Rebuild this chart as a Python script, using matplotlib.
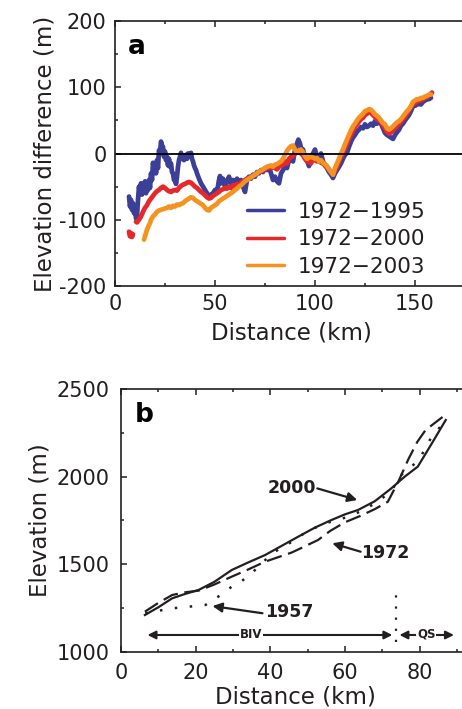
import numpy as np
import matplotlib
matplotlib.use("Agg")
import matplotlib.pyplot as plt
from matplotlib.ticker import MultipleLocator

# ---------------- Panel a data ----------------
blue_x = [7, 7.5, 8, 8.5, 9, 9.5, 10, 10.5, 11, 11.5, 12, 12.5, 13, 13.5, 14, 14.5, 15, 15.5, 16, 16.5,
          17, 17.5, 18, 18.5, 19, 19.5, 20, 20.5, 21, 21.5, 22, 22.5, 23, 23.5, 24, 24.5, 25, 25.5, 26, 26.5,
          27, 27.5, 28, 28.5, 29, 29.5, 30, 30.5, 31, 31.5, 32, 32.5, 33, 33.5, 34, 34.5, 35, 35.5, 36, 36.5,
          37, 37.5, 38, 38.5, 39, 39.5, 40, 40.5, 41, 42, 43, 44, 45, 46, 47, 48, 49, 50, 51, 52, 52.5, 53,
          54, 55, 56, 57, 58, 59, 60, 61, 62, 63, 64, 65, 66, 67, 68, 69, 70, 71, 72, 73, 74, 75, 76, 77,
          78, 79, 80, 81, 82, 83, 84, 85, 86, 87, 88, 89, 90, 91, 91.7, 92.5, 93, 94, 95, 96, 97, 98, 99,
          100, 101, 102, 103, 104, 105, 106, 107, 108, 109, 110, 111, 112, 113, 114, 115, 116, 117, 118,
          119, 120, 121, 122, 123, 124, 125, 126, 127, 128, 129, 130, 131, 132, 133, 134, 135, 136, 137,
          138, 139, 140, 141, 142, 143, 144, 145, 146, 147, 148, 149, 150, 151, 152, 153, 154, 155, 156,
          157, 158]
blue_y = [-65, -80, -70, -85, -75, -90, -80, -98, -95, -70, -50, -60, -45, -62, -50, -58, -42, -60, -48, -55,
          -40, -52, -30, -40, -14, -25, -18, -30, -10, -22, 5, 0, 18, 12, 10, -5, 3, -10, -5, -18,
          -8, -20, -15, -28, -30, -40, -38, -46, -35, -20, -10, -5, 1, -8, -3, -10, -6, -2, -8, 0,
          -5, -2, 1, -8, -12, -18, -22, -25, -30, -38, -45, -50, -55, -60, -65, -62, -60, -55, -58, -40, -34, -45,
          -38, -50, -42, -35, -45, -40, -48, -38, -45, -40, -50, -58, -40, -35, -38, -32, -35, -28, -30, -25, -28, -22, -25, -20,
          -30, -40, -35, -42, -45, -30, -25, -20, -22, -10, -8, -12, 5, 15, 21, 15, 8, 6, -5, -10, -19, -10, 0,
          6, -5, -8, 0, -12, -18, -22, -28, -32, -37, -30, -25, -20, -15, -8, -2, 1, 10, 18,
          24, 28, 33, 36, 40, 38, 44, 40, 42, 45, 42, 49, 45, 48, 45, 38, 31, 28, 26,
          24, 22, 28, 32, 36, 42, 45, 50, 54, 58, 64, 72, 72, 74, 75, 74, 78, 80, 82,
          82, 84]

red_x = [7, 7.5, 8, 8.5, 9, 9.5, 10.5, 11, 12, 13, 14, 15, 16, 17, 18, 19, 20, 21, 22, 23, 24, 25, 26, 27, 28,
         29, 30, 31, 32, 33, 34, 35, 36, 37, 38, 39, 40, 41, 42, 43, 44, 45, 46, 47, 48, 49, 50, 51, 52, 53,
         54, 55, 56, 57, 58, 59, 60, 61, 62, 63, 64, 65, 66, 67, 68, 69, 70, 71, 72, 73, 74, 75, 76, 77, 78,
         79, 80, 81, 82, 83, 84, 85, 86, 87, 88, 89, 90, 91, 92, 93, 94, 95, 96, 97, 98, 99, 100, 101, 102,
         103, 104, 105, 106, 107, 108, 109, 110, 111, 112, 113, 114, 115, 116, 117, 118, 119, 120, 121, 122,
         123, 124, 125, 126, 127, 128, 129, 130, 131, 132, 133, 134, 135, 136, 137, 138, 139, 140, 141, 142,
         143, 144, 145, 146, 147, 148, 149, 150, 151, 152, 153, 154, 155, 156, 157, 158, 158.5]
red_y = [-118, -125, -120, -126, -122, np.nan, -103, -104, -100, -95, -88, -82, -78, -72, -68, -64, -60, -57, -55, -52, -50, -52, -55, -57, -58,
         -56, -55, -56, -52, -49, -47, -46, -44, -43, -44, -47, -50, -52, -55, -58, -60, -63, -66, -68, -67, -64, -62, -60, -58, -55,
         -54, -52, -53, -50, -52, -48, -50, -46, -48, -44, -42, -40, -38, -37, -35, -34, -32, -30, -28, -27, -25, -24, -22, -20, -22,
         -20, -22, -24, -20, -18, -17, -12, -15, -8, -5, -4, 0, 5, 2, 0, -3, -8, -12, -10, -15, -8, -10, -12, -10,
         -14, -15, -18, -20, -24, -28, -32, -25, -20, -12, -5, 0, 8, 15, 22, 28, 34, 40, 44, 48,
         52, 54, 58, 60, 63, 62, 58, 55, 52, 50, 48, 42, 38, 33, 30, 32, 35, 38, 42, 44,
         48, 52, 55, 60, 65, 70, 74, 76, 78, 80, 80, 82, 84, 85, 88, 90, 92]

orange_x = [14.5, 15, 15.5, 16, 17, 17.5, 18, 19, 20, 21, 22, 23, 24, 25, 26, 27, 28, 29, 30, 31, 32, 33, 34,
            35, 36, 37, 38, 39, 40, 41, 42, 43, 44, 45, 46, 47, 48, 49, 50, 51, 52, 53, 54, 55, 56, 57, 58,
            59, 60, 61, 62, 63, 64, 65, 66, 67, 68, 69, 70, 71, 72, 73, 74, 75, 76, 77, 78, 79, 80, 81, 82,
            83, 84, 85, 86, 87, 88, 89, 90, 91, 92, 93, 94, 95, 96, 97, 98, 99, 100, 101, 102, 103, 104, 105,
            106, 107, 108, 109, 110, 111, 112, 113, 114, 115, 116, 117, 118, 119, 120, 121, 122, 123, 124,
            125, 126, 127, 128, 129, 130, 131, 132, 133, 134, 135, 136, 137, 138, 139, 140, 141, 142, 143,
            144, 145, 146, 147, 148, 149, 150, 151, 152, 153, 154, 155, 156, 157, 158]
orange_y = [-130, -125, -120, -115, -108, -105, -100, -95, -92, -88, -86, -85, -84, -83, -82, -80, -82, -79, -80, -77, -78, -76, -75,
            -72, -70, -68, -66, -67, -70, -72, -74, -76, -78, -82, -85, -86, -82, -80, -78, -76, -72, -70, -68, -66, -64, -62, -60,
            -58, -55, -53, -50, -48, -45, -42, -40, -38, -36, -34, -32, -30, -27, -26, -24, -22, -20, -19, -18, -20, -17, -16, -14,
            -12, -8, -2, 4, 8, 11, 12, 6, 2, 4, 6, 2, -4, -8, -6, -5, -6, -8, -7, -12, -10, -14, -16,
            -19, -24, -28, -32, -22, -15, -8, 0, 6, 14, 21, 28, 35, 41, 45, 50, 54, 57, 60,
            64, 65, 67, 66, 63, 59, 57, 54, 50, 46, 44, 38, 36, 38, 41, 44, 47, 49, 52,
            56, 60, 64, 67, 72, 78, 80, 82, 82, 84, 84, 86, 87, 89, 89]

series_labels = ["1972\u22121995", "1972\u22122000", "1972\u22122003"]

# ---------------- Panel b data ----------------
p2000_x = [6.4, 10, 13.7, 17, 20.8, 25, 29.7, 34, 38.6, 43, 47.5, 52, 56.4, 60, 63.5, 68, 72.4, 76, 79.5, 83, 87]
p2000_y = [1211, 1255, 1306, 1330, 1354, 1400, 1468, 1510, 1553, 1605, 1658, 1710, 1753, 1785, 1810, 1860, 1933, 2000, 2057, 2180, 2323]

p1972_x = [6.4, 10, 13.7, 17, 20.8, 25, 29.7, 34, 38.6, 42, 45.7, 49, 52.8, 56, 60, 64, 68, 71.5, 74.5, 77, 79.4, 81.6, 87.4]
p1972_y = [1230, 1280, 1325, 1340, 1350, 1385, 1430, 1470, 1515, 1540, 1567, 1600, 1639, 1690, 1740, 1775, 1815, 1857, 1981, 2100, 2199, 2266, 2361]

p1957_x = [6.5, 10, 13.7, 18, 22.6, 26, 29.7, 31.6, 35, 40.5, 45.8, 50, 54.8, 61, 65, 69, 72.7, 74.5, 78, 80.3, 83, 87.4]
p1957_y = [1220, 1235, 1249, 1258, 1268, 1315, 1373, 1392, 1449, 1563, 1629, 1690, 1734, 1772, 1810, 1860, 1924, 2000, 2060, 2114, 2219, 2333]

TXT = "#231f20"
plt.rcParams['font.family'] = ['DejaVu Sans']
plt.rcParams['axes.unicode_minus'] = False
plt.rcParams['text.color'] = TXT
plt.rcParams['axes.labelcolor'] = TXT
plt.rcParams['xtick.color'] = TXT
plt.rcParams['ytick.color'] = TXT

W, H = 462, 709
fig = plt.figure(figsize=(W / 100, H / 100), dpi=100)

def frac(l, t, r, b):
    return [l / W, 1 - b / H, (r - l) / W, (b - t) / H]

def style_axes(ax):
    for s in ax.spines.values():
        s.set_linewidth(1.2)
        s.set_color(TXT)
    ax.spines['right'].set_visible(False)
    ax.tick_params(which='both', direction='in', top=True, right=False, width=1.1)
    ax.tick_params(which='major', length=4, labelsize=15, pad=6)
    ax.tick_params(which='minor', length=2.5)

# ---------------- Panel a ----------------
axa = fig.add_axes(frac(115, 21, 468, 286))
axa.plot(blue_x, blue_y, color='#3b3f98', lw=3.4, label=series_labels[0], solid_capstyle='round')
axa.plot(red_x, red_y, color='#e6282b', lw=3.4, label=series_labels[1], solid_capstyle='round')
axa.plot(orange_x, orange_y, color='#f59320', lw=3.4, label=series_labels[2], solid_capstyle='round')
axa.axhline(0, color='black', lw=1.3)
axa.set_xlim(0, 176.5)
axa.set_ylim(-200, 200)
axa.xaxis.set_major_locator(MultipleLocator(50))
axa.xaxis.set_minor_locator(MultipleLocator(25))
axa.yaxis.set_major_locator(MultipleLocator(100))
axa.yaxis.set_minor_locator(MultipleLocator(50))
style_axes(axa)
axa.set_xlabel("Distance (km)", fontsize=16.5, labelpad=5)
axa.set_ylabel("Elevation difference (m)", fontsize=16.5, labelpad=2)
axa.text(0.037, 0.95, "a", transform=axa.transAxes, fontsize=19, fontweight='bold',
         ha='left', va='top', color='black')
leg = axa.legend(loc='lower left', bbox_to_anchor=(0.374, 0.035), frameon=False, fontsize=15.5,
                 handlelength=1.7, handletextpad=0.65, labelspacing=0.35, borderpad=0, borderaxespad=0)
for line in leg.get_lines():
    line.set_linewidth(2.5)

# ---------------- Panel b ----------------
axb = fig.add_axes(frac(121, 389, 470, 652))
axb.plot(p2000_x, p2000_y, color=TXT, lw=1.6, ls='-')
axb.plot(p1972_x, p1972_y, color=TXT, lw=1.6, ls=(0, (7, 3)))
axb.plot(p1957_x, p1957_y, color=TXT, lw=1.8, ls=(0, (1, 5)))
axb.set_xlim(0, 93.5)
axb.set_ylim(1000, 2500)
axb.xaxis.set_major_locator(MultipleLocator(20))
axb.xaxis.set_minor_locator(MultipleLocator(10))
axb.yaxis.set_major_locator(MultipleLocator(500))
axb.yaxis.set_minor_locator(MultipleLocator(250))
style_axes(axb)
axb.tick_params(which='major', pad=8)
axb.set_xlabel("Distance (km)", fontsize=16.5, labelpad=2)
axb.set_ylabel("Elevation (m)", fontsize=16.5, labelpad=4)
axb.text(0.04, 0.95, "b", transform=axb.transAxes, fontsize=19, fontweight='bold',
         ha='left', va='top', color='black')

arrow_kw = dict(arrowstyle='-|>', lw=1.6, color=TXT, mutation_scale=14, shrinkA=0, shrinkB=0)
axb.text(45.9, 1933, "2000", fontsize=12.5, fontweight='bold', ha='center', va='center')
axb.annotate("", xy=(63.3, 1867), xytext=(52.6, 1933), arrowprops=arrow_kw)
axb.text(70.9, 1563, "1972", fontsize=12.5, fontweight='bold', ha='center', va='center')
axb.annotate("", xy=(56.6, 1620), xytext=(64.2, 1572), arrowprops=arrow_kw)
axb.text(45.0, 1230, "1957", fontsize=12.5, fontweight='bold', ha='center', va='center')
axb.annotate("", xy=(24.5, 1262), xytext=(37.9, 1221), arrowprops=arrow_kw)

dbl_kw = dict(arrowstyle='<|-|>', lw=1.5, color=TXT, mutation_scale=12, shrinkA=0, shrinkB=0)
axb.annotate("", xy=(7.1, 1097), xytext=(72.7, 1097), arrowprops=dbl_kw)
axb.annotate("", xy=(74.6, 1097), xytext=(89.2, 1097), arrowprops=dbl_kw)
axb.text(34.9, 1100, "BIV", fontsize=8.5, fontweight='bold', ha='center', va='center',
         bbox=dict(facecolor='white', edgecolor='none', pad=0.5))
axb.text(81.8, 1103, "QS", fontsize=8.5, fontweight='bold', ha='center', va='center',
         bbox=dict(facecolor='white', edgecolor='none', pad=0.5))
axb.plot([73.6, 73.6], [1059, 1354], color=TXT, lw=1.6, ls=(0, (1, 4)))

fig.savefig("out.png", dpi=100)
